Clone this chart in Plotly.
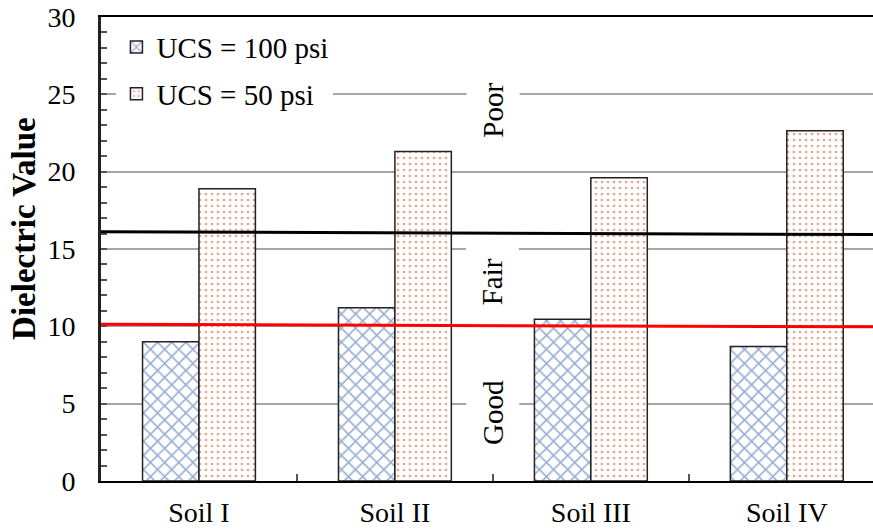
import plotly.graph_objects as go

categories = ["Soil I", "Soil II", "Soil III", "Soil IV"]
ucs100 = [9.0, 11.2, 10.45, 8.7]
ucs50 = [18.9, 21.3, 19.6, 22.65]
series_names = ["UCS = 100 psi", "UCS = 50 psi"]
poor_fair_line = [16.12, 15.93]
fair_good_line = [10.13, 9.97]
zone_labels = ["Poor", "Fair", "Good"]
zone_label_y = [24.0, 12.9, 4.45]
y_ticks = [0, 5, 10, 15, 20, 25, 30]

FONT = "Liberation Serif"

fig = go.Figure()
fig.add_trace(go.Bar(
    x=categories, y=ucs100, name=series_names[0], legendgroup="a",
    marker=dict(color="white", line=dict(color="#222222", width=1.5),
                pattern=dict(shape="x", fgcolor="#3560A8", bgcolor="white",
                             size=10, solidity=0.3)),
))
fig.add_trace(go.Bar(
    x=categories, y=ucs50, name=series_names[1], legendgroup="b",
    marker=dict(color="white", line=dict(color="#222222", width=1.5),
                pattern=dict(shape=".", fgcolor="#D04A20", bgcolor="white",
                             size=6, solidity=0.16)),
))

fig.add_shape(type="line", xref="x domain", yref="y", x0=0, x1=1,
              y0=poor_fair_line[0], y1=poor_fair_line[1],
              line=dict(color="black", width=3))
fig.add_shape(type="line", xref="x domain", yref="y", x0=0, x1=1,
              y0=fair_good_line[0], y1=fair_good_line[1],
              line=dict(color="#FF0000", width=3))

for lab, yv in zip(zone_labels, zone_label_y):
    fig.add_annotation(x=1.5, y=yv, xref="x", yref="y", text=lab,
                       textangle=-90, showarrow=False,
                       font=dict(family=FONT, size=29, color="black"),
                       bgcolor="white", borderpad=10)

fig.add_annotation(x=-0.1, y=0.545, xref="paper", yref="paper",
                   xanchor="center", yanchor="middle",
                   text="<b>Dielectric Value</b>", textangle=-90,
                   showarrow=False,
                   font=dict(family=FONT, size=33, color="black"))

fig.update_layout(
    width=873, height=529,
    margin=dict(l=101, r=0, t=17, b=48, autoexpand=False),
    paper_bgcolor="white", plot_bgcolor="white",
    barmode="group", bargap=0.424, bargroupgap=0,
    showlegend=True,
    legend=dict(x=0.02, y=0.99, xanchor="left", yanchor="top",
                bgcolor="white", borderwidth=0, traceorder="grouped",
                tracegroupgap=6,
                font=dict(family=FONT, size=29, color="black")),
    font=dict(family=FONT, color="black"),
)
fig.update_xaxes(
    range=[-0.5, 3.44], showline=True, linecolor="black", linewidth=2,
    mirror=True, ticks="inside", tickson="boundaries", ticklen=7,
    tickcolor="#555555", tickwidth=1.5, showgrid=False,
    ticklabelstandoff=5,
    tickfont=dict(family=FONT, size=28, color="black"),
)
fig.update_yaxes(
    range=[0, 30], tickvals=y_ticks, showline=True, linecolor="#222222",
    linewidth=3, ticks="inside", ticklen=6, tickcolor="#555555",
    tickwidth=1.5,
    minor=dict(dtick=1, ticks="inside", ticklen=6, tickcolor="#555555",
               tickwidth=1.5, showgrid=False),
    showgrid=True, gridcolor="#A6A6A6", gridwidth=2,
    ticklabelstandoff=17,
    tickfont=dict(family=FONT, size=28, color="black"),
    zeroline=False,
)

fig.write_html("out.html", config={"displayModeBar": False},
               post_script="document.body.style.margin='0';document.body.style.overflow='hidden';")
